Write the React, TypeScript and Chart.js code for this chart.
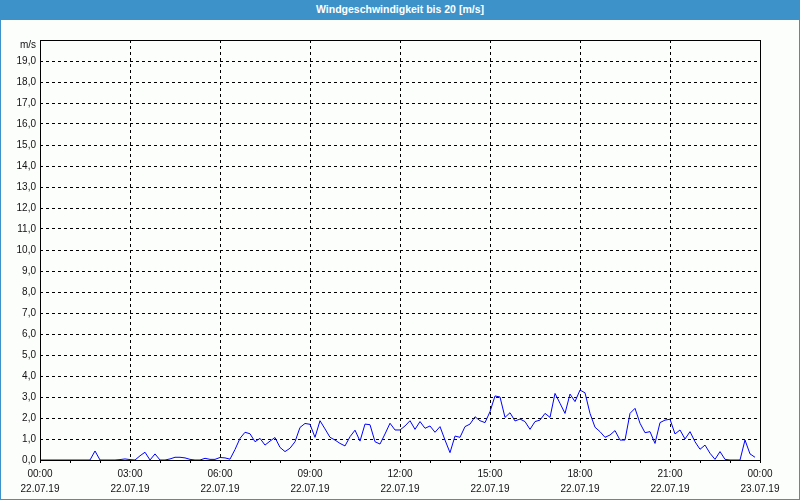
import React, { useEffect, useRef } from "react";
import { Chart, registerables } from "chart.js";

Chart.register(...registerables);

const chartTitle = "Windgeschwindigkeit bis 20 [m/s]";
const yUnit = "m/s";
const xTickTimes = ["00:00", "03:00", "06:00", "09:00", "12:00", "15:00", "18:00", "21:00", "00:00"];
const xTickDates = ["22.07.19", "22.07.19", "22.07.19", "22.07.19", "22.07.19", "22.07.19", "22.07.19", "22.07.19", "23.07.19"];
const yTickLabels = [
  "0,0", "1,0", "2,0", "3,0", "4,0", "5,0", "6,0", "7,0", "8,0", "9,0",
  "10,0", "11,0", "12,0", "13,0", "14,0", "15,0", "16,0", "17,0", "18,0", "19,0",
];
const sampleMinutes = 10;
const windSpeed = [
  0, 0, 0, 0, 0, 0, 0, 0, 0, 0, 0, 0.43, 0, 0, 0, 0, 0.02, 0.05, 0.02, 0,
  0.2, 0.37, 0, 0.29, 0, 0, 0.05, 0.13, 0.13, 0.1, 0.03, 0, 0, 0.08, 0.03, 0.03, 0.12, 0.1, 0.04, 0.5,
  1.03, 1.32, 1.25, 0.87, 1.03, 0.71, 0.9, 1.07, 0.6, 0.4, 0.56, 0.87, 1.55, 1.74, 1.7, 1.08, 1.87, 1.48, 1.08, 0.95,
  0.79, 0.67, 1.11, 1.42, 0.9, 1.71, 1.68, 0.87, 0.76, 1.24, 1.75, 1.43, 1.43, 1.62, 1.87, 1.46, 1.83, 1.51, 1.62, 1.32,
  1.59, 0.95, 0.35, 1.14, 1.08, 1.59, 1.71, 2.06, 1.87, 1.78, 2.3, 3.05, 3.0, 2.03, 2.25, 1.86, 1.95, 1.83, 1.46, 1.83,
  1.9, 2.22, 2.03, 3.17, 2.7, 2.22, 3.14, 2.78, 3.33, 3.2, 2.22, 1.56, 1.35, 1.08, 1.19, 1.4, 0.95, 0.95, 2.22, 2.46,
  1.75, 1.3, 1.35, 0.79, 1.78, 1.9, 1.94, 1.24, 1.43, 1.0, 1.35, 0.87, 0.51, 0.71, 0.32, 0.03, 0.4, 0.03, 0, 0,
  0, 0.95, 0.29, 0.13,
];

const FONT = '"Liberation Sans", Arial, sans-serif';
const BLUE = "#3d93c9";

export default function App() {
  const ref = useRef<HTMLCanvasElement>(null);

  useEffect(() => {
    if (!ref.current) return;
    const points = windSpeed.map((v, i) => ({ x: i * sampleMinutes, y: v }));

    const frame = {
      id: "frame",
      afterDatasetsDraw(chart: any) {
        const { ctx, chartArea: a } = chart;
        ctx.save();
        ctx.setLineDash([]);
        ctx.strokeStyle = "#000";
        ctx.lineWidth = 1;
        ctx.strokeRect(a.left + 0.5, a.top + 0.5, a.right - a.left, a.bottom - a.top);
        ctx.fillStyle = "#111";
        ctx.font = `10px ${FONT}`;
        ctx.textAlign = "right";
        ctx.textBaseline = "middle";
        ctx.fillText(yUnit, a.left - 4, a.top + 5);
        ctx.restore();
      },
    };

    const chart = new Chart(ref.current, {
      type: "line",
      data: {
        datasets: [
          {
            data: points,
            borderColor: "#0000ff",
            borderWidth: 1,
            pointRadius: 0,
            tension: 0,
            fill: false,
          },
        ],
      },
      options: {
        animation: false,
        responsive: false,
        maintainAspectRatio: false,
        devicePixelRatio: 1,
        layout: { padding: { left: 0, top: 40, right: 40, bottom: 0 } },
        plugins: { legend: { display: false }, title: { display: false }, tooltip: { enabled: false } },
        scales: {
          x: {
            type: "linear",
            min: 0,
            max: 1440,
            afterFit: (s: any) => {
              s.height = 40;
            },
            ticks: {
              stepSize: 60,
              autoSkip: false,
              maxRotation: 0,
              minRotation: 0,
              padding: 4,
              color: "#111",
              font: { family: FONT, size: 10, lineHeight: 1.5 },
              callback: (v: any) => {
                const n = Number(v);
                return n % 180 === 0 ? [xTickTimes[n / 180], xTickDates[n / 180]] : "";
              },
            },
            grid: {
              color: (c: any) => (c.tick && c.tick.value % 180 === 0 ? "#000" : "rgba(0,0,0,0)"),
              tickColor: "#000",
              tickLength: 3,
              lineWidth: 1,
              drawTicks: true,
            },
            border: { display: false, dash: [3, 3] },
          },
          y: {
            min: 0,
            max: 20,
            afterFit: (s: any) => {
              s.width = 40;
            },
            ticks: {
              stepSize: 1,
              autoSkip: false,
              padding: 4,
              color: "#111",
              font: { family: FONT, size: 10 },
              callback: (v: any) => {
                const n = Number(v);
                return n >= 20 ? "" : yTickLabels[n];
              },
            },
            grid: { color: "#000", lineWidth: 1, drawTicks: false },
            border: { display: false, dash: [3, 3] },
          },
        },
      },
      plugins: [frame],
    });
    return () => chart.destroy();
  }, []);

  return (
    <div
      style={{
        position: "fixed",
        left: 0,
        top: 0,
        width: 800,
        height: 500,
        background: "#fcfefc",
        overflow: "hidden",
      }}
    >
      <canvas ref={ref} width={800} height={500} style={{ position: "absolute", left: 0, top: 0, width: 800, height: 500 }} />
      <div
        style={{
          position: "absolute",
          left: 0,
          top: 0,
          width: 800,
          height: 500,
          boxSizing: "border-box",
          border: `1px solid ${BLUE}`,
          pointerEvents: "none",
        }}
      />
      <div
        style={{
          position: "absolute",
          left: 0,
          top: 0,
          width: 800,
          height: 20,
          background: BLUE,
          color: "#fff",
          fontFamily: FONT,
          fontWeight: "bold",
          fontSize: 10.5,
          lineHeight: "19px",
          textAlign: "center",
        }}
      >
        {chartTitle}
      </div>
    </div>
  );
}
